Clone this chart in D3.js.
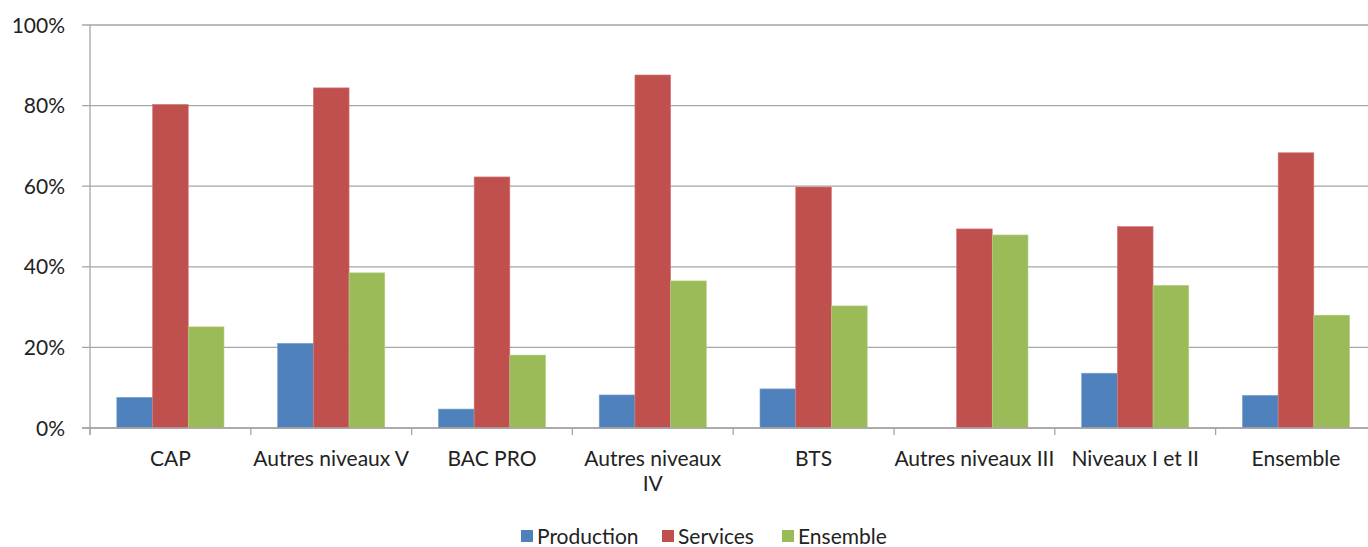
<!DOCTYPE html>
<html><head><meta charset="utf-8">
<script src="https://cdn.jsdelivr.net/npm/d3@7"></script>
<style>body{margin:0;background:#fff;} text{font-family:Lato,"DejaVu Sans",sans-serif;fill:#222;}</style>
</head><body><svg id="c" width="1368" height="547"></svg>
<script>
const categories = ["CAP","Autres niveaux V","BAC PRO","Autres niveaux IV","BTS","Autres niveaux III","Niveaux I et II","Ensemble"];
const categoryLines = [["CAP"],["Autres niveaux V"],["BAC PRO"],["Autres niveaux","IV"],["BTS"],["Autres niveaux III"],["Niveaux I et II"],["Ensemble"]];
const seriesNames = ["Production","Services","Ensemble"];
const production = [7.6, 21.0, 4.7, 8.2, 9.7, 0, 13.6, 8.1];
const services   = [80.3, 84.4, 62.3, 87.6, 59.8, 49.4, 50.0, 68.3];
const ensemble   = [25.1, 38.5, 18.1, 36.5, 30.3, 47.9, 35.4, 28.0];
const yTicks = [0, 20, 40, 60, 80, 100];
const colors = ["#4F81BD","#C0504D","#9BBB59"];
const strokes = ["#7FA3CF","#D27E7C","#B8D08A"];

const svg = d3.select("#c");
const pLeft = 90, pRight = 90 + 8*160.8, pTop = 25, pBottom = 428;
const x = d3.scaleBand().domain(categories).range([pLeft, pRight]).paddingInner(0).paddingOuter(0);
const y = d3.scaleLinear().domain([0,100]).range([pBottom, pTop]);
const bw = x.bandwidth()/4.5;
const xs = d3.scaleBand().domain(seriesNames).range([bw*0.75, bw*3.75]).padding(0);

// gridlines
svg.append("g").selectAll("line").data(yTicks).join("line")
  .attr("x1", pLeft-8).attr("x2", 1368).attr("y1", d=>y(d)).attr("y2", d=>y(d))
  .attr("stroke", "#a6a6a6").attr("stroke-width", 1.3);

// y axis labels
svg.append("g").selectAll("text").data(yTicks).join("text")
  .attr("x", 65).attr("y", d=>y(d)).attr("dy","0.36em").attr("text-anchor","end")
  .attr("font-size", 21).text(d=>d+"%");

// bars
const data = [production, services, ensemble];
const g = svg.append("g");
seriesNames.forEach((s,i)=>{
  g.selectAll(null).data(categories).join("rect")
    .attr("x", (c)=>x(c)+xs(s)).attr("width", xs.bandwidth())
    .attr("y", (c,j)=>y(data[i][j])).attr("height", (c,j)=>pBottom-y(data[i][j]))
    .attr("fill", colors[i]).attr("stroke", strokes[i]).attr("stroke-width",0.6)
    .attr("display",(c,j)=>data[i][j]>0?null:"none");
});

// y axis line
svg.append("line").attr("x1",pLeft).attr("x2",pLeft).attr("y1",pTop).attr("y2",pBottom+7)
  .attr("stroke","#a6a6a6").attr("stroke-width",1.3);
// x axis line and ticks
svg.append("line").attr("x1",pLeft-8).attr("x2",1368).attr("y1",pBottom).attr("y2",pBottom)
  .attr("stroke","#a6a6a6").attr("stroke-width",1.3);
svg.append("g").selectAll("line").data(categories).join("line")
  .attr("x1",d=>x(d)).attr("x2",d=>x(d)).attr("y1",pBottom).attr("y2",pBottom+7)
  .attr("stroke","#a6a6a6").attr("stroke-width",1.3);

// category labels
const cl = svg.append("g").selectAll("text").data(categories).join("text")
  .attr("text-anchor","middle").attr("font-size",21)
  .attr("x", d=>x(d)+x.bandwidth()/2).attr("y", 466);
cl.each(function(d,i){
  const t = d3.select(this);
  categoryLines[i].forEach((ln,k)=>{
    t.append("tspan").attr("x", x(d)+x.bandwidth()/2).attr("dy", k===0?0:25).text(ln);
  });
});

// legend
const legX = [521, 662, 782];
const lg = svg.append("g");
seriesNames.forEach((s,i)=>{
  lg.append("rect").attr("x",legX[i]).attr("y",530).attr("width",12).attr("height",12).attr("fill",colors[i]);
  lg.append("text").attr("x",legX[i]+16).attr("y",536).attr("dy","0.36em").attr("font-size",21).text(s);
});
</script></body></html>
